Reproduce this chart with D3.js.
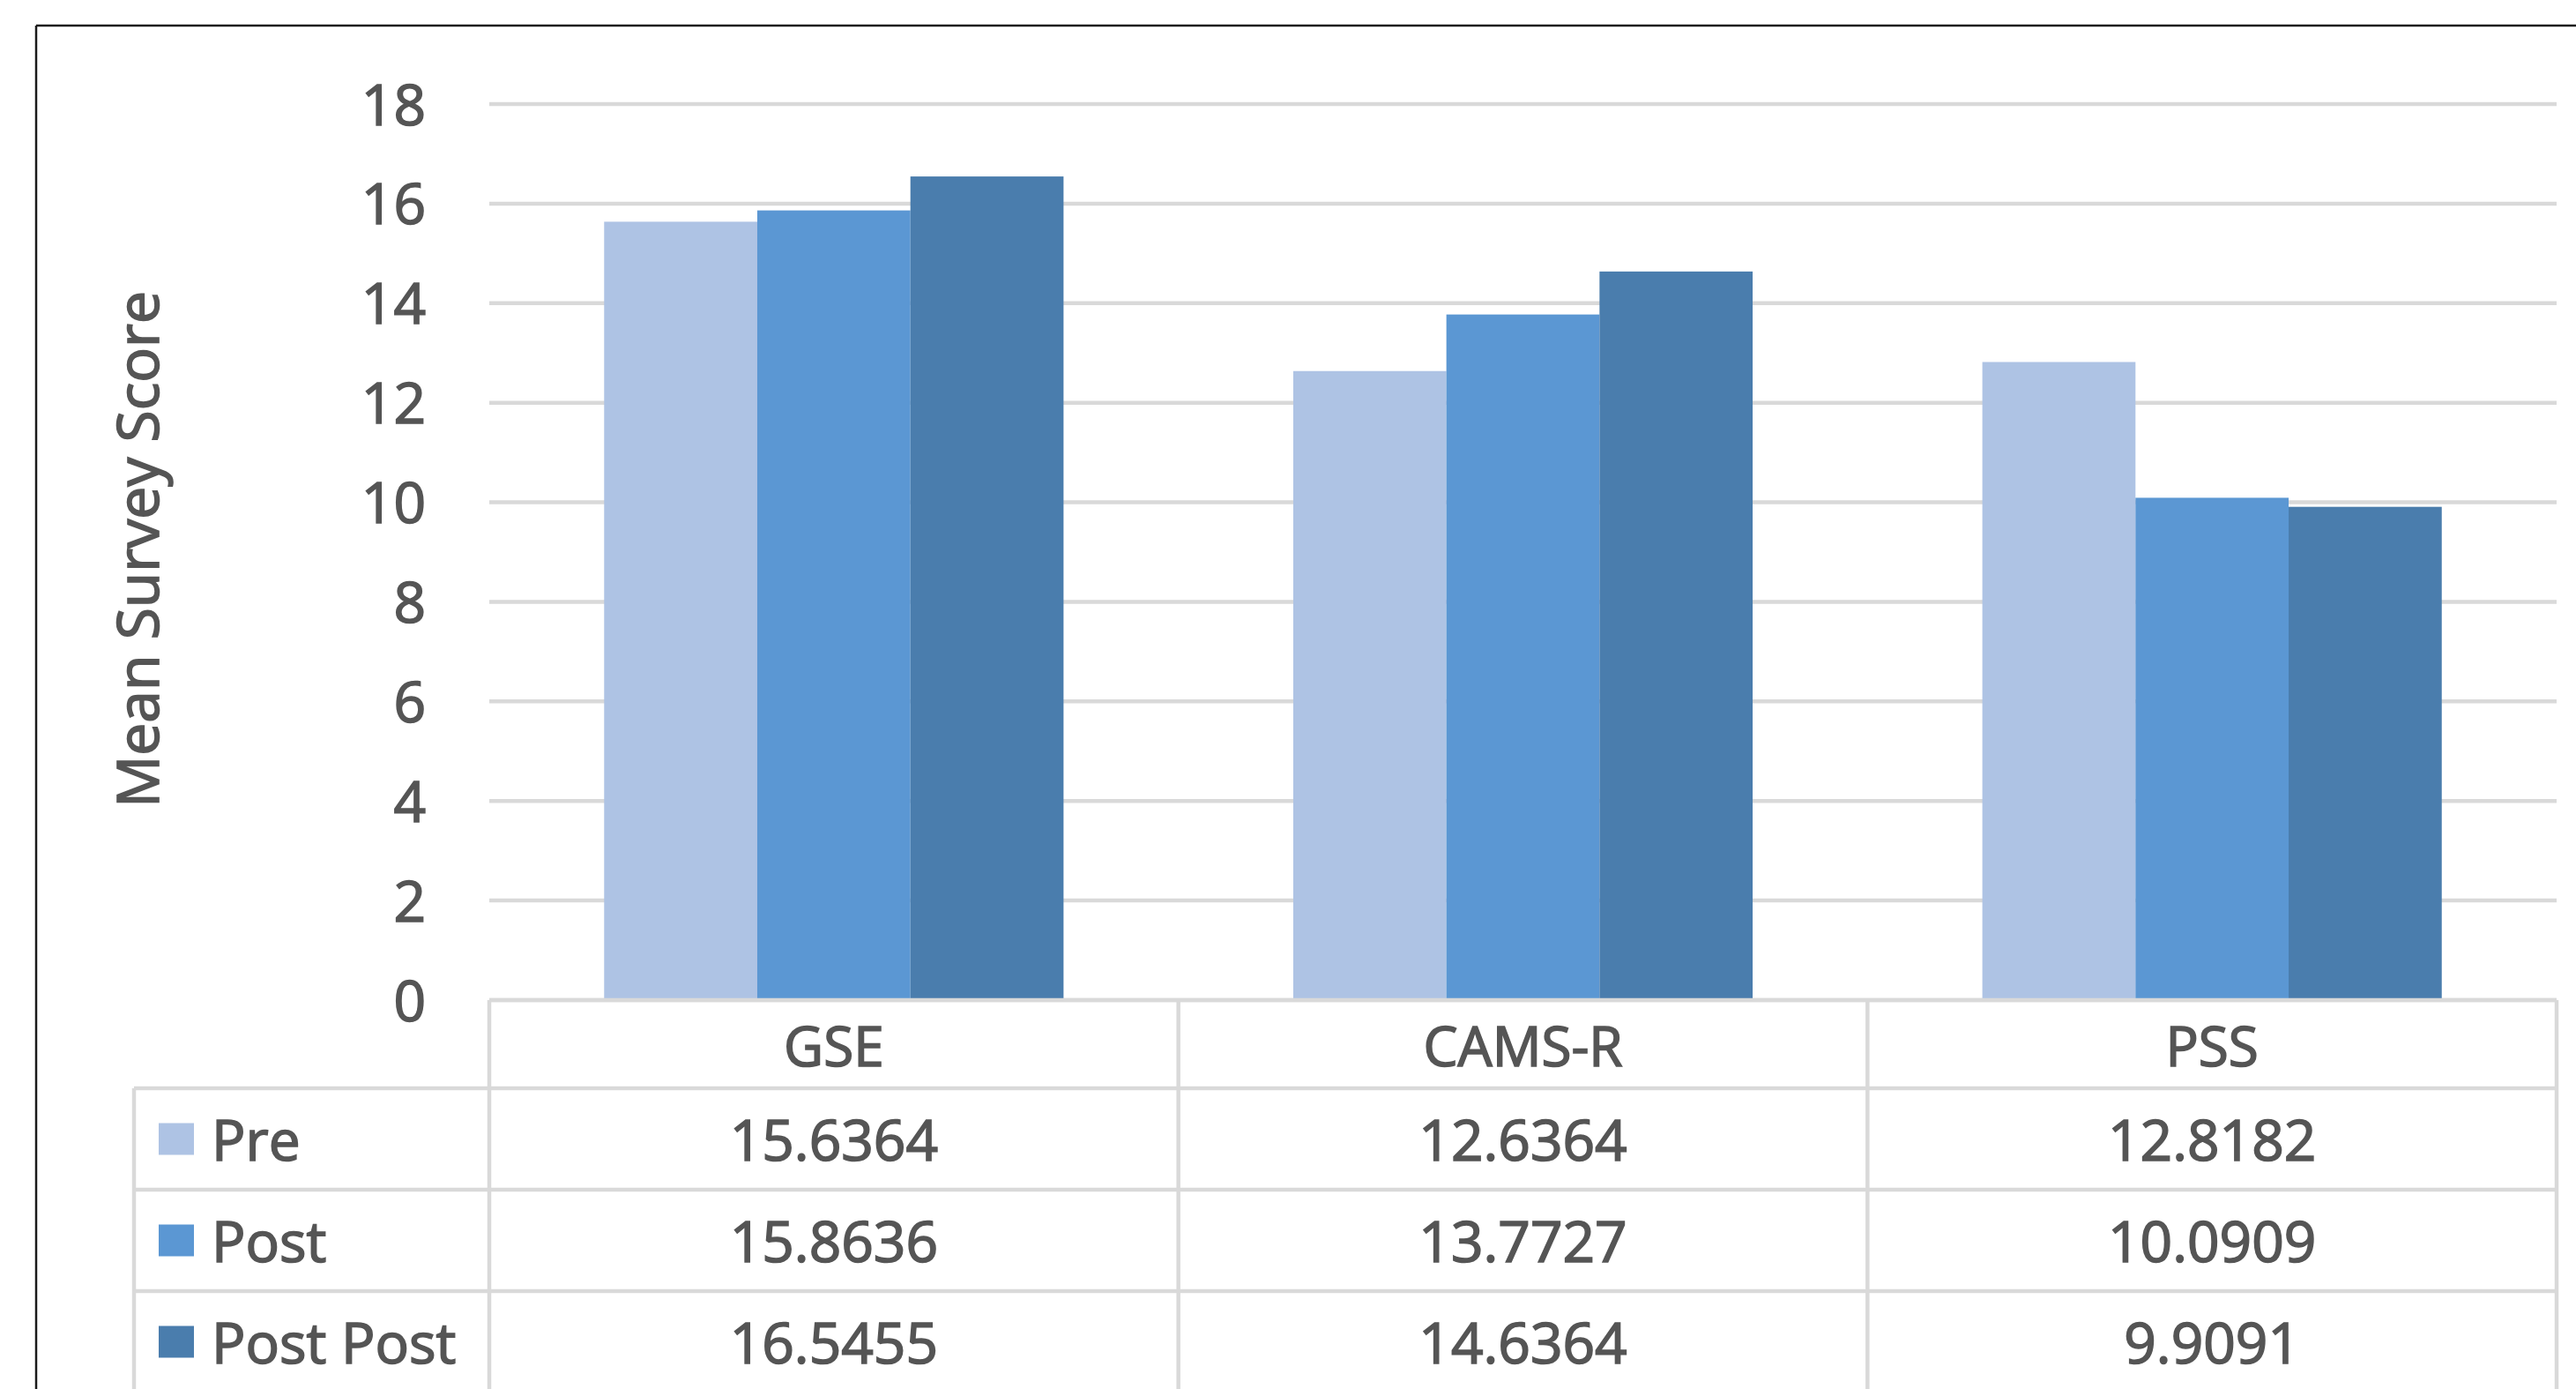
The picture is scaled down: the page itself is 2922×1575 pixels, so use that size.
<!DOCTYPE html>
<html>
<head>
<meta charset="utf-8">
<script src="https://cdn.jsdelivr.net/npm/d3@7"></script>
<style>
  html, body { margin: 0; padding: 0; background: #ffffff; }
  svg { display: block; }
  text { font-family: "Open Sans", "DejaVu Sans", sans-serif; fill: #555555; stroke: #555555; stroke-width: 1.6px; }
</style>
</head>
<body>
<svg id="chart" width="2922" height="1575"></svg>
<script>
// ---- data ----
const categories = ["GSE", "CAMS-R", "PSS"];
const seriesNames = ["Pre", "Post", "Post Post"];
const preValues = [15.6364, 12.6364, 12.8182];
const postValues = [15.8636, 13.7727, 10.0909];
const postPostValues = [16.5455, 14.6364, 9.9091];
const yTicks = [0, 2, 4, 6, 8, 10, 12, 14, 16, 18];
const seriesColors = ["#AEC3E4", "#5B97D3", "#4A7DAD"];
const yTitle = "Mean Survey Score";

const seriesValues = [preValues, postValues, postPostValues];

// ---- layout ----
const W = 2922, H = 1575;
const plotLeft = 555, plotRight = 2900;
const yTop = 118, yBottom = 1134;
const tableLeft = 152;
const headerBottom = 1234;
const rowH = 115;

const svg = d3.select("#chart");
svg.append("rect").attr("width", W).attr("height", H).attr("fill", "#ffffff");

// frame
svg.append("line").attr("x1", 41).attr("x2", W).attr("y1", 29).attr("y2", 29)
  .attr("stroke", "#1a1a1a").attr("stroke-width", 2.5);
svg.append("line").attr("x1", 41).attr("x2", 41).attr("y1", 29).attr("y2", H)
  .attr("stroke", "#1a1a1a").attr("stroke-width", 2.5);

// scales
const x0 = d3.scaleBand().domain(categories).range([plotLeft, plotRight]).paddingInner(0).paddingOuter(0);
const x1 = d3.scaleBand().domain(seriesNames).range([0, x0.bandwidth()]).paddingInner(0).paddingOuter(0.75);
const y = d3.scaleLinear().domain([0, 18]).range([yBottom, yTop]);

// gridlines
svg.append("g").selectAll("line").data(yTicks).join("line")
  .attr("x1", plotLeft).attr("x2", plotRight)
  .attr("y1", d => y(d)).attr("y2", d => y(d))
  .attr("stroke", "#D9D9D9").attr("stroke-width", 4.5);

// y axis labels
const yAxis = d3.axisLeft(y).tickValues(yTicks).tickSize(0).tickPadding(72).tickFormat(d3.format("d"));
const gy = svg.append("g").attr("transform", `translate(${plotLeft},0)`).call(yAxis);
gy.select(".domain").remove();
gy.selectAll("text").attr("font-size", 64).attr("fill", "#555555")
  .attr("font-family", "'Open Sans', sans-serif").attr("dy", "0.36em");

// bars
const groups = svg.append("g").selectAll("g").data(categories).join("g")
  .attr("transform", c => `translate(${x0(c)},0)`);
groups.selectAll("rect")
  .data((c, ci) => seriesNames.map((s, si) => ({ s, si, v: seriesValues[si][ci] })))
  .join("rect")
  .attr("x", d => x1(d.s))
  .attr("width", x1.bandwidth())
  .attr("y", d => y(d.v))
  .attr("height", d => y(0) - y(d.v))
  .attr("fill", d => seriesColors[d.si]);

// data table
const tableColor = "#D9D9D9";
const tg = svg.append("g");
const tableBottom = headerBottom + rowH * seriesNames.length;
// top line (axis line)
tg.append("line").attr("x1", plotLeft).attr("x2", plotRight).attr("y1", yBottom).attr("y2", yBottom)
  .attr("stroke", tableColor).attr("stroke-width", 4.5);
// vertical column lines
const colEdges = categories.map(c => x0(c)).concat([plotRight]);
tg.selectAll("line.col").data(colEdges).join("line").attr("class", "col")
  .attr("x1", d => d).attr("x2", d => d).attr("y1", yBottom).attr("y2", tableBottom)
  .attr("stroke", tableColor).attr("stroke-width", 4.5);
// left border of legend column
tg.append("line").attr("x1", tableLeft).attr("x2", tableLeft).attr("y1", headerBottom).attr("y2", tableBottom)
  .attr("stroke", tableColor).attr("stroke-width", 4.5);
// row lines
const rowLines = d3.range(seriesNames.length + 1).map(i => headerBottom + i * rowH);
tg.selectAll("line.row").data(rowLines).join("line").attr("class", "row")
  .attr("x1", tableLeft).attr("x2", plotRight).attr("y1", d => d).attr("y2", d => d)
  .attr("stroke", tableColor).attr("stroke-width", 4.5);

// header labels
tg.selectAll("text.cat").data(categories).join("text").attr("class", "cat")
  .attr("x", c => x0(c) + x0.bandwidth() / 2)
  .attr("y", (yBottom + headerBottom) / 2 + 25)
  .attr("text-anchor", "middle").attr("font-size", 62)
  .text(c => c);

// rows
seriesNames.forEach((s, si) => {
  const cy = headerBottom + si * rowH + rowH / 2;
  tg.append("rect").attr("x", 180).attr("y", cy - 18).attr("width", 40).attr("height", 36)
    .attr("fill", seriesColors[si]);
  tg.append("text").attr("x", 240).attr("y", cy + 24).attr("font-size", 64).text(s);
  tg.selectAll(null).data(categories).join("text")
    .attr("x", c => x0(c) + x0.bandwidth() / 2)
    .attr("y", cy + 24)
    .attr("text-anchor", "middle").attr("font-size", 64)
    .text((c, ci) => String(seriesValues[si][ci]));
});

// y title
svg.append("text")
  .attr("transform", "translate(180,623) rotate(-90)")
  .attr("text-anchor", "middle").attr("font-size", 66)
  .attr("stroke-width", 2)
  .text(yTitle);
</script>
</body>
</html>
